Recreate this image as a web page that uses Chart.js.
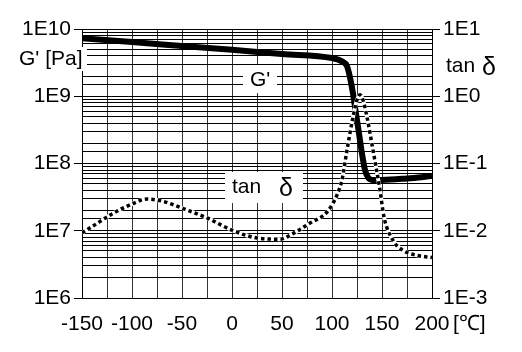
<!DOCTYPE html>
<html>
<head>
<meta charset="utf-8">
<script src="https://cdn.jsdelivr.net/npm/chart.js@4/dist/chart.umd.min.js"></script>
<style>
  body { margin: 0; background: #fff; }
  #wrap { width: 522px; height: 352px; }
</style>
</head>
<body>
<div id="wrap"><canvas id="chart" width="522" height="352"></canvas></div>
<script>
// G' (storage modulus, Pa) vs temperature
const gTemps = [-150, -100, -50, 0, 50, 100, 110, 115, 118, 121, 124, 127, 130, 133, 136, 140, 150, 175, 200];
const gValues = [7.3e9, 6.4e9, 5.6e9, 4.9e9, 4.25e9, 3.7e9, 3.3e9, 2.8e9, 1.9e9, 1.1e9, 5.5e8, 2.8e8, 1.4e8, 8.0e7, 6.2e7, 5.7e7, 5.7e7, 6.0e7, 6.5e7];

// tan delta vs temperature
const tanTemps = [-150, -140, -120, -100, -85, -70, -50, -25, 0, 25, 48, 60, 78, 95, 105, 110, 115, 121, 125, 128, 131, 135, 141, 148, 152, 161, 171, 185, 200];
const tanValues = [0.0093, 0.0115, 0.0178, 0.025, 0.0296, 0.0276, 0.0217, 0.0155, 0.0102, 0.0078, 0.0075, 0.0089, 0.013, 0.019, 0.034, 0.057, 0.158, 0.49, 0.88, 1.05, 0.88, 0.49, 0.158, 0.04, 0.016, 0.0072, 0.0051, 0.0043, 0.004];

// axis ranges / tick labels
const xMin = -150, xMax = 200, xStep = 25, xLabelStep = 50;
const gRange = [1e6, 1e10];
const tanRange = [1e-3, 1e1];

const FONT = 'Liberation Sans, Arial, Helvetica, sans-serif';
const FS = 21;

function isDecade(v) {
  const l = Math.log10(v);
  return Math.abs(l - Math.round(l)) < 1e-6;
}
function decadeLabel(v) {
  return isDecade(v) ? '1E' + Math.round(Math.log10(v)) : '';
}

const gData = gTemps.map((t, i) => ({ x: t, y: gValues[i] }));
const tanData = tanTemps.map((t, i) => ({ x: t, y: tanValues[i] }));

// 文字标注（白底）
const labelPlugin = {
  id: 'labels',
  beforeDatasetsDraw(chart) {
    const ctx = chart.ctx;
    ctx.save();
    ctx.fillStyle = '#fff';
    ctx.fillRect(243, 65, 34, 28);
    ctx.fillRect(225, 172, 78, 31);
    ctx.fillStyle = '#000';
    ctx.textBaseline = 'middle';
    ctx.font = FS + 'px ' + FONT;
    ctx.textAlign = 'left';
    ctx.fillText("G'", 250, 80);
    ctx.fillText('tan', 232, 187);
    ctx.font = '25px ' + FONT;
    ctx.fillText('\u03B4', 279, 189);
    ctx.restore();
  },
  afterDraw(chart) {
    const ctx = chart.ctx;
    ctx.save();
    ctx.fillStyle = '#fff';
    ctx.fillRect(18, 47, 69, 24);
    ctx.fillStyle = '#000';
    ctx.textBaseline = 'middle';
    ctx.textAlign = 'left';
    ctx.font = FS + 'px ' + FONT;
    ctx.fillText("G' [Pa]", 19, 59);
    ctx.fillText('tan', 446, 66);
    ctx.font = '25px ' + FONT;
    ctx.fillText('\u03B4', 482, 68);
    ctx.font = FS + 'px ' + FONT;
    ctx.fillText('[\u2103]', 453, 324);
    ctx.restore();
  }
};

new Chart(document.getElementById('chart'), {
  type: 'line',
  data: {
    datasets: [
      {
        label: "G'",
        data: gData,
        yAxisID: 'y',
        borderColor: '#000',
        borderWidth: 6,
        pointRadius: 0,
        cubicInterpolationMode: 'monotone',
        borderJoinStyle: 'round',
        order: 3
      },
      {
        label: 'tan δ bg',
        data: tanData,
        yAxisID: 'y2',
        borderColor: '#fff',
        borderWidth: 4,
        pointRadius: 0,
        cubicInterpolationMode: 'monotone',
        order: 2
      },
      {
        label: 'tan δ',
        data: tanData,
        yAxisID: 'y2',
        borderColor: '#000',
        borderWidth: 3.5,
        borderDash: [3.5, 3],
        pointRadius: 0,
        cubicInterpolationMode: 'monotone',
        order: 1
      }
    ]
  },
  options: {
    responsive: false,
    animation: false,
    layout: { padding: { top: 29, left: 0, right: 0, bottom: 0 } },
    plugins: {
      legend: { display: false },
      tooltip: { enabled: false }
    },
    scales: {
      x: {
        type: 'linear',
        position: 'bottom',
        min: xMin,
        max: xMax,
        grid: { color: '#333', lineWidth: 1, drawTicks: false },
        border: { color: '#000' },
        ticks: {
          stepSize: xStep,
          autoSkip: false,
          maxRotation: 0,
          padding: 14,
          color: '#000',
          font: { family: FONT, size: FS },
          callback: v => (v % xLabelStep === 0 ? String(v) : '')
        },
        afterFit: s => { s.height = 54; }
      },
      y: {
        type: 'logarithmic',
        position: 'left',
        min: gRange[0],
        max: gRange[1],
        grid: {
          color: '#000',
          lineWidth: 1,
          tickLength: 8,
          tickColor: c => (c.tick && isDecade(c.tick.value) ? '#000' : 'rgba(0,0,0,0)')
        },
        border: { color: '#000' },
        ticks: {
          autoSkip: false,
          padding: 3,
          color: '#000',
          font: { family: FONT, size: FS },
          callback: v => decadeLabel(v)
        },
        afterFit: s => { s.width = 82; }
      },
      y2: {
        type: 'logarithmic',
        position: 'right',
        min: tanRange[0],
        max: tanRange[1],
        grid: {
          drawOnChartArea: false,
          tickLength: 8,
          tickColor: c => (c.tick && isDecade(c.tick.value) ? '#000' : 'rgba(0,0,0,0)')
        },
        border: { color: '#000' },
        ticks: {
          autoSkip: false,
          padding: 3,
          color: '#000',
          font: { family: FONT, size: FS },
          callback: v => decadeLabel(v)
        },
        afterFit: s => { s.width = 90; }
      }
    }
  },
  plugins: [labelPlugin]
});
</script>
</body>
</html>
